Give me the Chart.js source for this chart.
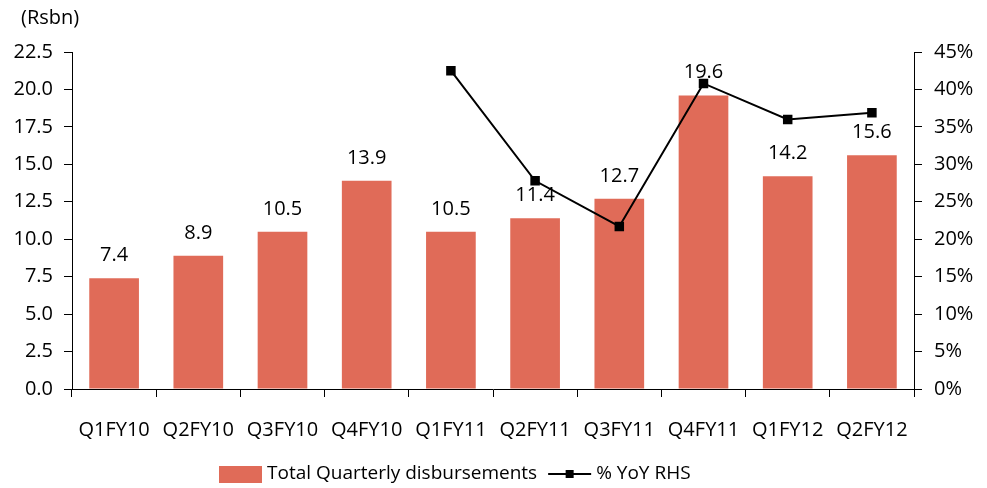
<!DOCTYPE html>
<html>
<head>
<meta charset="utf-8">
<script src="https://cdn.jsdelivr.net/npm/chart.js@4"></script>
<style>
  html, body { margin:0; padding:0; background:#fff; }
  #wrap { width:987px; height:488px; }
</style>
</head>
<body>
<div id="wrap"><canvas id="c" width="987" height="488"></canvas></div>
<script>
// ── data ──────────────────────────────────────────────
const quarters = ['Q1FY10','Q2FY10','Q3FY10','Q4FY10','Q1FY11','Q2FY11','Q3FY11','Q4FY11','Q1FY12','Q2FY12'];
const disbursements = [7.4, 8.9, 10.5, 13.9, 10.5, 11.4, 12.7, 19.6, 14.2, 15.6];
const yoyPct = [null, null, null, null, 42.5, 27.8, 21.7, 40.8, 36.0, 36.9];
const seriesNames = ['Total Quarterly disbursements', '% YoY RHS'];

const FONT = '"Open Sans", "Noto Sans", sans-serif';
const BAR_C = '#E06B58';

// bar value labels, unit title, legend
const labelsPlugin = {
  id: 'barLabels',
  afterDatasetDraw(chart, args) {
    if (args.meta.type !== 'bar') return;
    const ctx = chart.ctx;
    ctx.save();
    ctx.font = '20px ' + FONT;
    ctx.fillStyle = '#000';
    ctx.textAlign = 'center';
    ctx.textBaseline = 'alphabetic';
    args.meta.data.forEach((bar, i) => {
      ctx.fillText(disbursements[i].toFixed(1), bar.x, bar.y - 17);
    });
    ctx.restore();
  },
  afterDraw(chart) {
    const ctx = chart.ctx;
    ctx.save();
    ctx.fillStyle = '#000';
    ctx.textBaseline = 'middle';
    ctx.font = '20px ' + FONT;
    ctx.fillText('(Rsbn)', 21, 18);

    // legend
    ctx.font = '19px ' + FONT;
    const ly = 474;
    let x = 219;
    ctx.fillStyle = BAR_C;
    ctx.fillRect(x, 466, 43, 17);
    x += 48;
    ctx.fillStyle = '#000';
    ctx.fillText(seriesNames[0], x, ly);
    x += ctx.measureText(seriesNames[0]).width + 11;
    ctx.strokeStyle = '#000'; ctx.lineWidth = 2;
    ctx.beginPath(); ctx.moveTo(x, ly); ctx.lineTo(x + 43, ly); ctx.stroke();
    ctx.fillRect(x + 17.5, ly - 4, 8, 8);
    x += 48;
    ctx.fillText(seriesNames[1], x, ly);
    ctx.restore();
  }
};

new Chart(document.getElementById('c'), {
  data: {
    labels: quarters,
    datasets: [
      {
        type: 'bar',
        label: seriesNames[0],
        data: disbursements,
        backgroundColor: BAR_C,
        barPercentage: 0.59,
        categoryPercentage: 1,
        yAxisID: 'y',
        order: 1
      },
      {
        type: 'line',
        label: seriesNames[1],
        data: yoyPct,
        borderColor: '#000',
        backgroundColor: '#000',
        borderWidth: 2,
        pointStyle: 'rect',
        pointRadius: 5.3,
        pointHoverRadius: 5.3,
        tension: 0,
        spanGaps: false,
        yAxisID: 'y1',
        order: 0
      }
    ]
  },
  options: {
    responsive: false,
    animation: false,
    layout: { padding: { top: 52, bottom: 0, left: 0, right: 0 } },
    plugins: {
      tooltip: { enabled: false },
      legend: { display: false }
    },
    scales: {
      x: {
        offset: true,
        grid: { drawOnChartArea: false, offset: true, color: '#000', tickLength: 8, tickColor: '#000' },
        border: { color: '#000', width: 1 },
        ticks: { color: '#000', font: { family: FONT, size: 20 }, padding: 21, maxRotation: 0, autoSkip: false },
        afterFit(s) { s.height = 99; }
      },
      y: {
        position: 'left',
        min: 0, max: 22.5,
        grid: { drawOnChartArea: false, color: '#000', tickLength: 8, tickColor: '#000' },
        border: { color: '#000', width: 1 },
        ticks: { stepSize: 2.5, color: '#000', font: { family: FONT, size: 20 }, padding: 11,
                 callback: v => v.toFixed(1) },
        afterFit(s) { s.width = 72; }
      },
      y1: {
        position: 'right',
        min: 0, max: 45,
        grid: { drawOnChartArea: false, color: '#000', tickLength: 8, tickColor: '#000' },
        border: { color: '#000', width: 1 },
        ticks: { stepSize: 5, color: '#000', font: { family: FONT, size: 20 }, padding: 12,
                 callback: v => v + '%' },
        afterFit(s) { s.width = 73; }
      }
    }
  },
  plugins: [labelsPlugin]
});
</script>
</body>
</html>
